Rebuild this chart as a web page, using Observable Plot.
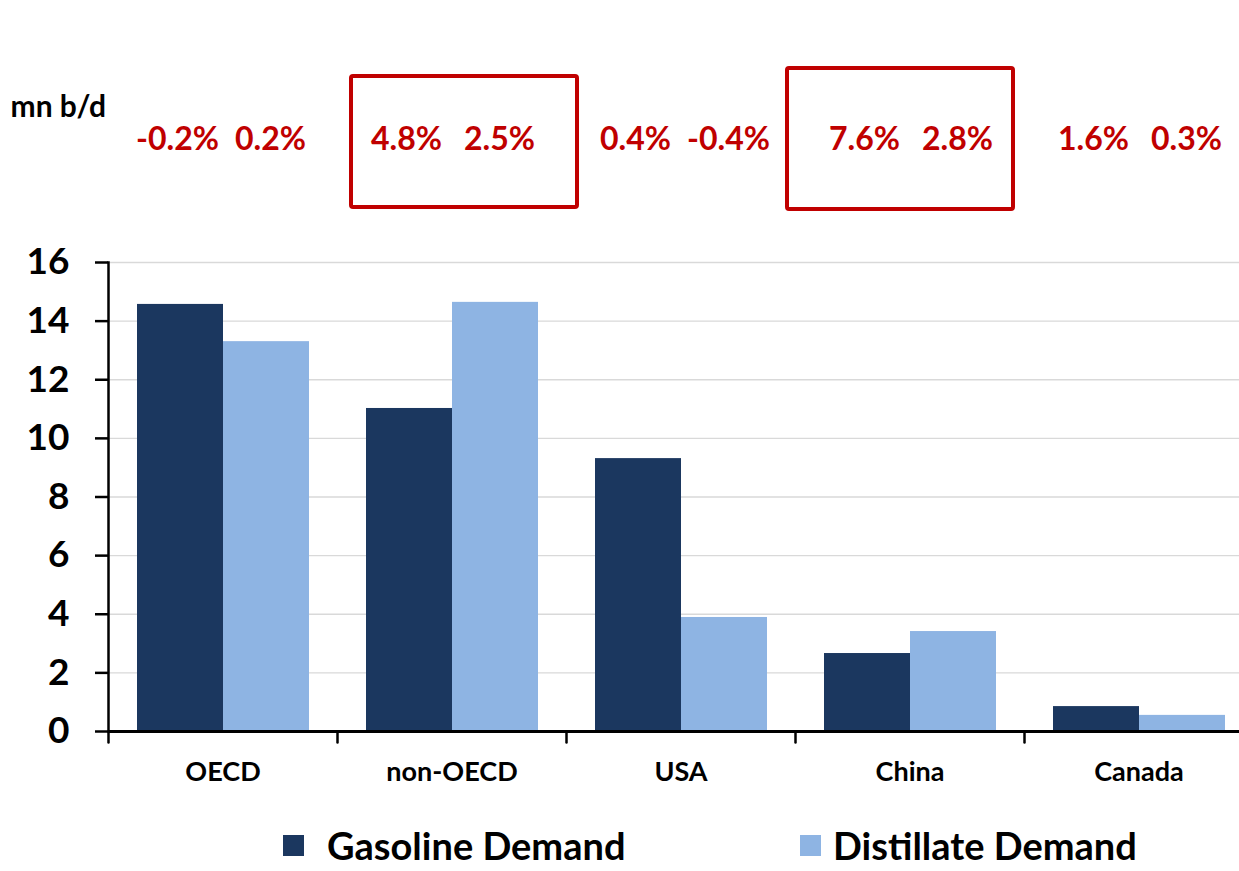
<!DOCTYPE html>
<html><head><meta charset="utf-8">
<script src="https://cdn.jsdelivr.net/npm/d3@7"></script>
<script src="https://cdn.jsdelivr.net/npm/@observablehq/plot@0.6"></script>
<style>
html,body{margin:0;padding:0;background:#fff;overflow:hidden;width:1239px;height:871px;font-family:Lato,sans-serif}
#chart{position:absolute;left:0;top:0}
#chart svg{max-width:none}
.lg{position:absolute;top:825px;height:40px;line-height:40px;display:flex;align-items:center;font-weight:bold;font-size:38px;color:#000;white-space:nowrap}
.sw{display:inline-block;width:21px;height:21px}
</style></head><body>
<div id="chart"></div>
<div id="legend"></div>
<script>
const categories = ["OECD", "non-OECD", "USA", "China", "Canada"];
const seriesNames = ["Gasoline Demand", "Distillate Demand"];
const gasoline = [14.57, 11.02, 9.31, 2.66, 0.85];
const distillate = [13.30, 14.64, 3.89, 3.41, 0.55];
const gasolineGrowth = ["-0.2%", "4.8%", "0.4%", "7.6%", "1.6%"];
const distillateGrowth = ["0.2%", "2.5%", "-0.4%", "2.8%", "0.3%"];
const highlighted = ["non-OECD", "China"];
const yTicks = [0, 2, 4, 6, 8, 10, 12, 14, 16];
const unitLabel = "mn b/d";
const colors = ["#1b375f", "#8eb4e3"];
const red = "#c00000";

const rows = categories.flatMap((c, i) => [
  {category: c, series: seriesNames[0], value: gasoline[i], growth: gasolineGrowth[i]},
  {category: c, series: seriesNames[1], value: distillate[i], growth: distillateGrowth[i]}
]);

const tickShape = {draw(context, l) { context.moveTo(0, 0); context.lineTo(0, -l); }};

const chart = Plot.plot({
  width: 1253, height: 820,
  marginTop: 262, marginBottom: 89, marginLeft: 108, marginRight: 0,
  style: {fontFamily: "Lato, sans-serif", background: "white", color: "black", maxWidth: "none"},
  fx: {domain: categories, padding: 0, label: null},
  x: {domain: seriesNames, paddingInner: 0, paddingOuter: 0.32, axis: null},
  y: {domain: [0, 16], label: null},
  color: {domain: seriesNames, range: colors},
  marks: [
    Plot.gridY(yTicks.filter(t => t > 0), {stroke: "#d9d9d9", strokeOpacity: 1, strokeWidth: 1.3}),
    Plot.barY(rows, {fx: "category", x: "series", y: "value", fill: "series"}),
    Plot.ruleY([0], {stroke: "black", strokeWidth: 3}),
    Plot.frame({anchor: "left", facet: "super", stroke: "black", strokeWidth: 2.5}),
    Plot.axisY(yTicks, {anchor: "left", tickSize: 13, tickPadding: 26, strokeWidth: 2.5, fontSize: 37, fontWeight: "bold", label: null}),
    Plot.axisFx({anchor: "bottom", tickSize: 0, tickPadding: 30, fontSize: 27, fontWeight: "bold", label: null}),
    Plot.vector(categories, {fx: d => d, frameAnchor: "bottom-left", length: 11, rotate: 180, anchor: "start", shape: tickShape, stroke: "black", strokeWidth: 2.5}),
    Plot.text(rows.filter(r => r.series === seriesNames[0]), {fx: "category", x: "series", text: "growth", frameAnchor: "top", dy: -135, dx: -3, fill: red, fontSize: 32, fontWeight: "bold"}),
    Plot.text(rows.filter(r => r.series === seriesNames[1]), {fx: "category", x: "series", text: "growth", frameAnchor: "top", dy: -135, dx: 4, fill: red, fontSize: 32, fontWeight: "bold"}),
    Plot.rect(highlighted.slice(0, 1), {fx: d => d, insetLeft: 14, insetRight: -11, insetTop: -186, insetBottom: 524, fill: "none", stroke: red, strokeWidth: 4, rx: 2}),
    Plot.rect(highlighted.slice(1, 2), {fx: d => d, insetLeft: -8, insetRight: 11, insetTop: -194, insetBottom: 522, fill: "none", stroke: red, strokeWidth: 4, rx: 2}),
    Plot.text([unitLabel], {fx: () => categories[0], text: d => d, frameAnchor: "top-left", dx: -98, dy: -167, textAnchor: "start", fontSize: 30, fontWeight: "bold", fill: "black"})
  ]
});
document.getElementById("chart").appendChild(chart);

const legend = document.getElementById("legend");
const lgPos = [283, 800];
const lgGap = [23, 12];
seriesNames.forEach((s, i) => {
  const d = document.createElement("div");
  d.className = "lg";
  d.style.left = lgPos[i] + "px";
  d.innerHTML = `<span class="sw" style="background:${colors[i]};margin-right:${lgGap[i]}px"></span><span>${s}</span>`;
  legend.appendChild(d);
});
</script>
</body></html>
